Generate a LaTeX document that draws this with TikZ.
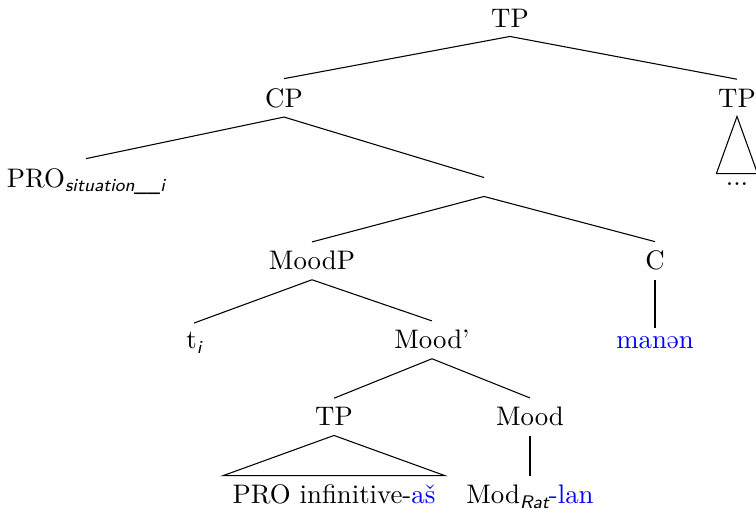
\documentclass[tikz,border=0pt]{standalone}
\newcommand\subsf[1]{\raisebox{-1.6pt}{\fontsize{6.8pt}{8pt}\selectfont\sffamily\itshape #1}}
\begin{document}
\begin{tikzpicture}[x=0.373pt,y=-0.373pt,
  every node/.style={anchor=base, inner sep=3.33pt},
  branch/.style={line width=0.4pt},
  hl/.style={text=blue}]
\useasboundingbox (0,0) rectangle (756,510);
\node (tp0) at (510,27) {TP};
\node (cp) at (284,107) {CP};
\node (tp1) at (737,107) {TP};
\node (dots) at (737,186) {...};
\node (pro) at (86,187) {PRO\subsf{situation\_\_i}};
\node (e) at (484,187) {};
\node (moodp) at (312,270) {MoodP};
\node (c) at (655,270) {C};
\node (t) at (194,349) {t\subsf{i}};
\node (moodbar) at (432,349) {Mood'};
\node[hl] (man) at (655,349) {manən};
\node (tp2) at (334,426) {TP};
\node (mood) at (530,426) {Mood};
\node (pinf) at (334,504) {PRO infinitive-\textcolor{blue}{aš}};
\node (mod) at (530,504) {Mod\subsf{Rat}\textcolor{blue}{-lan}};
\draw[branch] (tp0.south) -- (cp.north);
\draw[branch] (tp0.south) -- (tp1.north);
\draw[branch] (tp1.south) -- (dots.north west) -- (dots.north east) -- cycle;
\draw[branch] (cp.south) -- (pro.north);
\draw[branch] (cp.south) -- (e.north);
\draw[branch] (e.south) -- (moodp.north);
\draw[branch] (e.south) -- (c.north);
\draw[branch] (moodp.south) -- (t.north);
\draw[branch] (moodp.south) -- (moodbar.north);
\draw[branch] (c.south) -- (man.north);
\draw[branch] (moodbar.south) -- (tp2.north);
\draw[branch] (moodbar.south) -- (mood.north);
\draw[branch] (tp2.south) -- (pinf.north west) -- (pinf.north east) -- cycle;
\draw[branch] (mood.south) -- (mod.north);
\end{tikzpicture}
\end{document}
